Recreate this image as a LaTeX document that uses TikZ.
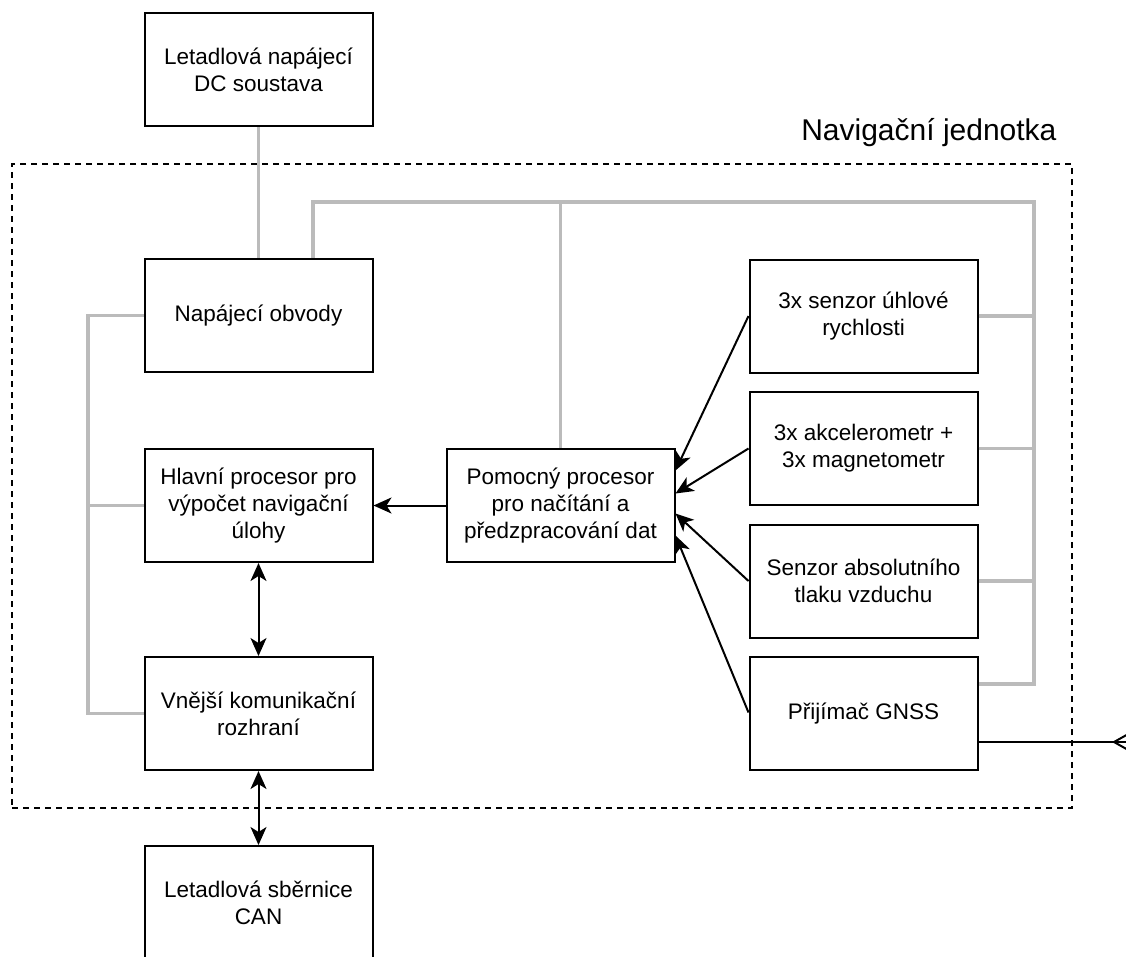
\documentclass[tikz,border=0pt]{standalone}
\usepackage{fontspec}
\setmainfont{Liberation Sans}
\usetikzlibrary{arrows.meta,calc}
\definecolor{powergray}{RGB}{187,187,187}
\tikzset{
  block/.style={draw=black, line width=2pt, minimum width=228pt, minimum height=113pt,
    inner sep=0pt, align=center, font=\fontsize{22.5}{27}\selectfont},
  power/.style={draw=powergray, line width=3.5pt},
  headtip/.tip={Stealth[length=18pt,width=16pt,inset=5pt]},
  signal/.style={draw=black, line width=2pt, -headtip},
  duplex/.style={draw=black, line width=2pt, headtip-headtip},
  unitframe/.style={draw=black, line width=2pt, dash pattern=on 6pt off 5pt, minimum width=1060pt, minimum height=644pt, inner sep=0pt}
}
\begin{document}
\begin{tikzpicture}[x=1pt, y=-1pt]
  \clip (0,0) rectangle (1126,956);
  \fill[white] (0,0) rectangle (1126,956);

  % navigation unit boundary and its title
  \node[unitframe] (unit) at (542,486) {};
  \node[font=\fontsize{30}{36}\selectfont, anchor=east] (unittitle) at (1060,133) {Navigační jednotka};

  % blocks
  \node[block] (dc)   at (258.5,69.5)  {Letadlová napájecí\\DC soustava};
  \node[block] (nap)  at (258.5,315.5) {Napájecí obvody};
  \node[block] (hlav) at (258.5,505.5) {Hlavní procesor pro\\výpočet navigační\\úlohy};
  \node[block] (vnej) at (258.5,713.5) {Vnější komunikační\\rozhraní};
  \node[block] (can)  at (258.5,902.5) {Letadlová sběrnice\\CAN};
  \node[block] (pom)  at (560.5,505.5) {Pomocný procesor\\pro načítání a\\předzpracování dat};
  \node[block] (s1)   at (863.5,316)   {3x senzor úhlové\\rychlosti};
  \node[block] (s2)   at (863.5,448.5) {3x akcelerometr +\\3x magnetometr};
  \node[block] (s3)   at (863.5,581)   {Senzor absolutního\\tlaku vzduchu};
  \node[block] (gnss) at (863.5,713.5) {Přijímač GNSS};

  % power distribution
  \draw[power] (dc.south) -- (nap.north);
  \coordinate (busL) at (88,0);
  \draw[power] (nap.west) -| (busL |- vnej.west) -- (vnej.west);
  \draw[power] (hlav.west) -- (busL |- hlav.west);
  \coordinate (busTop) at (313,202);
  \coordinate (busR) at (1034,202);
  \draw[power] (busTop |- nap.north) -- (busTop) -- (busR) -- (busR |- 0,684) -- (gnss.east |- 0,684);
  \draw[power] (pom.north) -- (pom.north |- busTop);
  \draw[power] (s1.east) -- (busR |- s1.east);
  \draw[power] (s2.east) -- (busR |- s2.east);
  \draw[power] (s3.east) -- (busR |- s3.east);

  % sensor data into the auxiliary processor
  \draw[signal] (s1.west) -- ([yshift=35pt]pom.east);
  \draw[signal] (s2.west) -- ([yshift=12pt]pom.east);
  \draw[signal] (s3.west) -- ([yshift=-8pt]pom.east);
  \draw[signal] ([yshift=1pt]gnss.west) -- ([yshift=-30pt]pom.east);
  \draw[signal] (pom.west) -- (hlav.east);

  % bidirectional links
  \draw[duplex] (hlav.south) -- (vnej.north);
  \draw[duplex] (vnej.south) -- (can.north);

  % GNSS antenna feed
  \coordinate (ant) at (1114,742);
  \draw[black, line width=2pt] ([yshift=-28.5pt]gnss.east) -- (1130,742);
  \draw[black, line width=2pt] (1130,733) -- (ant) -- (1130,751);
\end{tikzpicture}
\end{document}
